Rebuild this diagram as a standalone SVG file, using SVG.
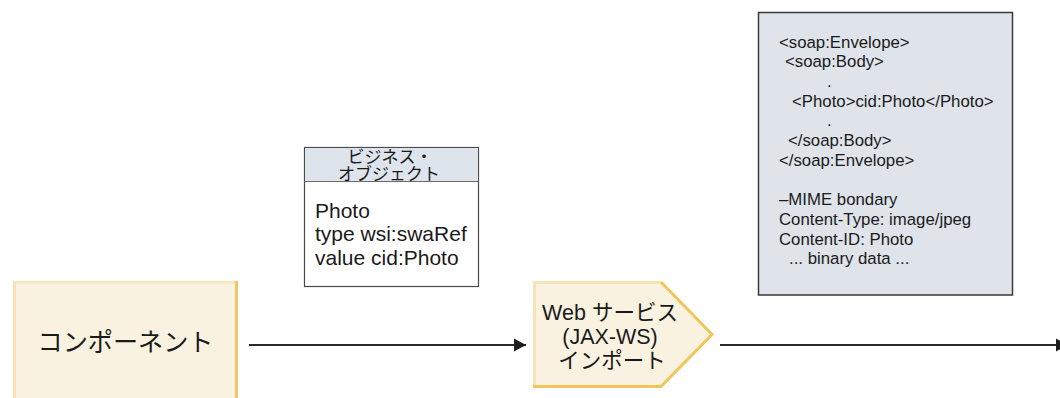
<svg xmlns="http://www.w3.org/2000/svg" width="1060" height="398" viewBox="0 0 1060 398">
<defs>
<style>
.jp{font-family:"Liberation Sans","Noto Sans CJK JP",sans-serif;fill:#1a1a1a}
.lat{font-family:"Liberation Sans",Arial,sans-serif;fill:#1a1a1a}
.xml{font-family:"Liberation Sans",Arial,sans-serif;font-size:16.8px;fill:#1a1a1a}
.conn{stroke:#2a2a2a;stroke-width:2;fill:none}
</style>
<marker id="arr" markerUnits="userSpaceOnUse" markerWidth="14" markerHeight="14" refX="12" refY="7" orient="auto">
<path d="M0,0.5 L12,7 L0,13.5 Z" fill="#1e1e1e"/>
</marker>
</defs>
<rect width="1060" height="398" fill="#ffffff"/>

<g id="component">
<rect x="13" y="281" width="225" height="125" fill="#f9f2e0"/>
<rect x="13" y="281" width="3" height="125" fill="#f6e4b6"/>
<rect x="13" y="281" width="225" height="2.5" fill="#f6e6bc"/>
<rect x="235" y="281" width="3" height="125" fill="#f2c660"/>
<text class="jp" x="125.5" y="350.5" font-size="25" text-anchor="middle" textLength="176" lengthAdjust="spacingAndGlyphs">コンポーネント</text>
</g>

<g id="business-object">
<rect x="304.5" y="147.5" width="174" height="139" fill="#ffffff" stroke="#4a4a4a" stroke-width="1.2"/>
<rect x="305" y="148" width="173" height="33.5" fill="#dde4ec"/>
<line x1="304.5" y1="181.5" x2="478.5" y2="181.5" stroke="#6a6a6a" stroke-width="1"/>
<text class="jp" font-size="17" text-anchor="middle"><tspan x="390" y="162.5">ビジネス・</tspan><tspan x="389" y="179.5">オブジェクト</tspan></text>
<text class="lat" x="315" y="217.5" font-size="21">Photo</text>
<text class="lat" x="315" y="241" font-size="21">type wsi:swaRef</text>
<text class="lat" x="315" y="264.5" font-size="21">value cid:Photo</text>
</g>

<g id="web-service-import">
<polygon points="533,281 661,281 713,334.5 661,388 533,388" fill="#f9f2e0"/>
<polyline points="534.5,388 534.5,282.5 661,282.5" fill="none" stroke="#f6e4b6" stroke-width="3"/>
<polyline points="661,282 712,334.5 661,386.5 533,386.5" fill="none" stroke="#f1c55a" stroke-width="3" stroke-linejoin="miter"/>
<text class="jp" x="610" y="320" font-size="21.5" text-anchor="middle">Web サービス</text>
<text class="jp" x="610" y="344" font-size="21.5" text-anchor="middle">(JAX-WS)</text>
<text class="jp" x="612" y="368" font-size="21.5" text-anchor="middle">インポート</text>
</g>

<g id="soap-message">
<rect x="758.5" y="12.5" width="254" height="282.5" fill="#dfe4ea" stroke="#3a3a3a" stroke-width="1.5"/>
<text class="xml" x="779" y="47.5">&lt;soap:Envelope&gt;</text>
<text class="xml" x="785" y="67">&lt;soap:Body&gt;</text>
<text class="xml" x="827" y="87">.</text>
<text class="xml" x="792" y="106.5">&lt;Photo&gt;cid:Photo&lt;/Photo&gt;</text>
<text class="xml" x="827" y="126">.</text>
<text class="xml" x="788" y="146">&lt;/soap:Body&gt;</text>
<text class="xml" x="779" y="165.5">&lt;/soap:Envelope&gt;</text>
<text class="xml" x="779" y="205">–MIME bondary</text>
<text class="xml" x="779" y="224.5">Content-Type: image/jpeg</text>
<text class="xml" x="779" y="244.5">Content-ID: Photo</text>
<text class="xml" x="789" y="264">... binary data ...</text>
</g>

<g id="connectors">
<line class="conn" x1="249" y1="345" x2="526" y2="345" marker-end="url(#arr)"/>
<line class="conn" x1="720" y1="345" x2="1068" y2="345" marker-end="url(#arr)"/>
</g>
</svg>
